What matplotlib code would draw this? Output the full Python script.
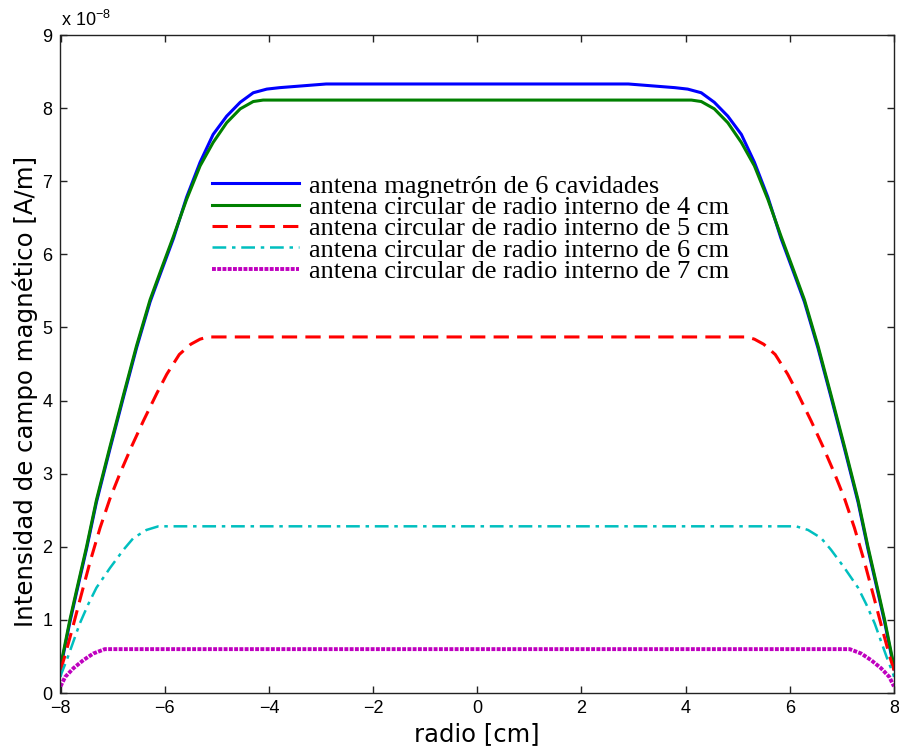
import numpy as np
import matplotlib
matplotlib.use("Agg")
import matplotlib.pyplot as plt

# Magnetic field intensity profiles (units of 1e-8 A/m), listed for radius >= 0;
# each profile is symmetric about the axis and mirrored for negative radius.
r_magnetron = [0, 2.9, 3.79, 4.04, 4.30, 4.55, 4.81, 5.07, 5.32, 5.58, 5.83,
               6.09, 6.28, 6.54, 6.79, 7.05, 7.31, 7.50, 7.69, 7.82, 7.95, 8.0]
h_magnetron = [8.33, 8.33, 8.28, 8.26, 8.21, 8.08, 7.89, 7.64, 7.26, 6.78, 6.22,
               5.72, 5.35, 4.72, 4.05, 3.34, 2.61, 1.97, 1.38, 0.97, 0.51, 0.33]

r_int4 = [0, 4.11, 4.30, 4.55, 4.81, 5.07, 5.32, 5.58, 5.83, 6.09, 6.28, 6.54,
          6.79, 7.05, 7.31, 7.50, 7.69, 7.82, 7.95, 8.0]
h_int4 = [8.11, 8.11, 8.09, 7.99, 7.80, 7.53, 7.21, 6.75, 6.25, 5.75, 5.38, 4.75,
          4.08, 3.37, 2.64, 2.00, 1.41, 1.00, 0.54, 0.37]

r_int5 = [0, 5.17, 5.32, 5.50, 5.72, 5.96, 6.15, 6.41, 6.63, 6.86, 7.05, 7.24,
          7.43, 7.61, 7.78, 7.91, 8.0]
h_int5 = [4.87, 4.87, 4.84, 4.77, 4.63, 4.36, 4.10, 3.72, 3.38, 3.00, 2.66, 2.26,
          1.80, 1.32, 0.86, 0.52, 0.31]

r_int6 = [0, 6.12, 6.35, 6.60, 6.79, 7.05, 7.31, 7.47, 7.63, 7.75, 7.88, 7.98, 8.0]
h_int6 = [2.28, 2.28, 2.23, 2.12, 1.96, 1.71, 1.44, 1.21, 0.95, 0.71, 0.45, 0.27, 0.22]

r_int7 = [0, 7.15, 7.37, 7.56, 7.75, 7.91, 8.0]
h_int7 = [0.60, 0.60, 0.54, 0.45, 0.34, 0.22, 0.09]

labels = [
    "antena magnetrón de 6 cavidades",
    "antena circular de radio interno de 4 cm",
    "antena circular de radio interno de 5 cm",
    "antena circular de radio interno de 6 cm",
    "antena circular de radio interno de 7 cm",
]
x_ticks = [-8, -6, -4, -2, 0, 2, 4, 6, 8]
y_ticks = [0, 1, 2, 3, 4, 5, 6, 7, 8, 9]
SCALE = 1e-8


def mirrored(r, h):
    r = np.asarray(r, float)
    h = np.asarray(h, float)
    x = np.concatenate([-r[::-1], r[1:]])
    y = np.concatenate([h[::-1], h[1:]]) * SCALE
    return x, y


W, H = 899, 747
fig = plt.figure(figsize=(W / 100, H / 100), dpi=100)
ax = fig.add_axes([60.5 / W, 1 - 693 / H, (894 - 60.5) / W, (693 - 35) / H])

styles = [
    dict(color="#0000ff", lw=2.2, ls="-"),
    dict(color="#008000", lw=2.2, ls="-"),
    dict(color="#ff0000", lw=2.2, dashes=(5, 2.7)),
    dict(color="#00bfbf", lw=1.8, dashes=(5.5, 2.3, 1.4, 2.3)),
    dict(color="#bf00bf", lw=2.8, dashes=(1.0, 0.35)),
]
series = [(r_magnetron, h_magnetron), (r_int4, h_int4), (r_int5, h_int5),
          (r_int6, h_int6), (r_int7, h_int7)]

handles = []
for (r, h), st, lab in zip(series, styles, labels):
    x, y = mirrored(r, h)
    ln, = ax.plot(x, y, label=lab, **st)
    handles.append(ln)

ax.set_xlim(-8, 8)
ax.set_ylim(0, 9 * SCALE)
ax.set_xticks(x_ticks)
ax.set_yticks([v * SCALE for v in y_ticks])
ax.set_xticklabels([str(v).replace("-", "\u2212") for v in x_ticks])
ax.set_yticklabels([str(v) for v in y_ticks])

tick_font = ["Liberation Sans", "DejaVu Sans"]
for lab in ax.get_xticklabels() + ax.get_yticklabels():
    lab.set_family(tick_font)
    lab.set_fontsize(13)

ax.tick_params(direction="in", top=True, right=True, length=5, width=1,
               color="#222222")
ax.tick_params(axis="y", pad=6)
ax.tick_params(axis="x", pad=5)
for s in ax.spines.values():
    s.set_linewidth(1.0)
    s.set_color("#222222")

ax.set_xlabel("radio [cm]", fontsize=17.5, family="DejaVu Sans")
ax.xaxis.set_label_coords(0.5, -0.044)
ax.xaxis.label.set_va("top")
ax.set_ylabel("Intensidad de campo magnético [A/m]", fontsize=17.6,
              family="DejaVu Sans")
ax.yaxis.set_label_coords(-0.027, 0.459)

fig.text(61 / W, 1 - 26 / H, "x 10$^{\\mathregular{\u22128}}$", fontsize=13,
         family=tick_font, ha="left", va="baseline")

leg = ax.legend(handles=handles, loc="center left",
                bbox_to_anchor=(211.7 / W, 1 - 228.5 / H),
                bbox_transform=fig.transFigure,
                frameon=False, borderpad=0, borderaxespad=0,
                handlelength=3.3, handletextpad=0.4, labelspacing=-0.08,
                prop={"family": "Liberation Serif", "size": 19})

fig.savefig("out.png", dpi=100)
